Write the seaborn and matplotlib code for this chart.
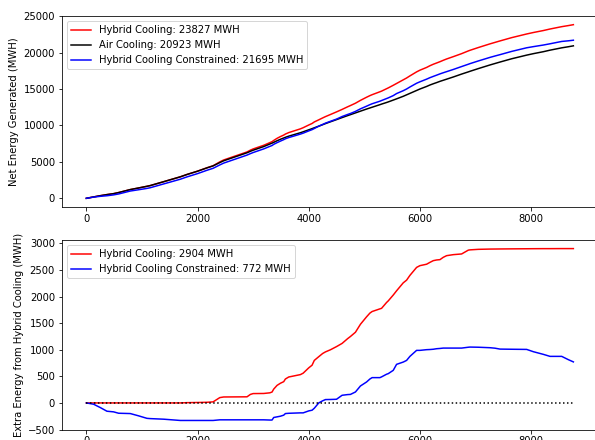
import numpy as np
import matplotlib
matplotlib.use("Agg")
import matplotlib.pyplot as plt
import seaborn as sns

# Hour of year at which cumulative totals were sampled
hours = np.array([
    0, 130, 250, 370, 490, 580, 790, 940, 1090, 1150, 1390, 1690, 1810, 2000,
    2170, 2280, 2400, 2470, 2890, 2950, 3000, 3190, 3300, 3340, 3370, 3430,
    3490, 3550, 3580, 3640, 3850, 3900, 4000, 4060, 4100, 4180, 4250, 4300,
    4390, 4500, 4600, 4700, 4750, 4840, 4930, 5040, 5100, 5140, 5280, 5310,
    5400, 5430, 5520, 5580, 5700, 5760, 5820, 5940, 6000, 6120, 6180, 6240,
    6300, 6360, 6420, 6480, 6600, 6750, 6870, 6900, 7050, 7260, 7350, 7440,
    7650, 7920, 8040, 8220, 8340, 8550, 8670, 8760,
])

# Cumulative net energy with air cooling only (MWH)
air_cooling = np.array([
    0, 190, 360, 510, 640, 790, 1200, 1420, 1650, 1750, 2280, 2950, 3270, 3720,
    4180, 4450, 4900, 5150, 6250, 6450, 6600, 7100, 7450, 7570, 7680, 7900,
    8100, 8280, 8370, 8530, 9000, 9130, 9400, 9560, 9680, 9900, 10100, 10250,
    10500, 10800, 11080, 11350, 11480, 11720, 11960, 12250, 12400, 12500, 12850, 12930,
    13150, 13230, 13480, 13650, 14000, 14200, 14400, 14800, 15000, 15350, 15550, 15720,
    15880, 16050, 16200, 16350, 16650, 17050, 17350, 17430, 17800, 18300, 18500, 18700,
    19150, 19650, 19850, 20120, 20330, 20650, 20800, 20923,
])

# Cumulative extra energy over air cooling, unconstrained hybrid (MWH)
hybrid_extra = np.array([
    0, 0, 0, 0, 0, 0, 0, 0, 0, 0, 0, 0, 5, 8,
    12, 20, 100, 112, 115, 160, 176, 178, 190, 205, 260, 330,
    370, 400, 450, 488, 533, 560, 660, 710, 800, 870, 930, 960,
    1000, 1060, 1120, 1210, 1250, 1330, 1480, 1620, 1690, 1720, 1770, 1780,
    1890, 1920, 2030, 2110, 2260, 2310, 2400, 2550, 2583, 2610, 2645, 2677,
    2690, 2696, 2740, 2771, 2790, 2803, 2875, 2880, 2890, 2895, 2896, 2897,
    2899, 2901, 2902, 2903, 2903, 2904, 2904, 2904,
])

# Cumulative extra energy over air cooling, constrained hybrid (MWH)
constrained_extra = np.array([
    0, -24, -87, -156, -168, -194, -200, -243, -290, -295, -306, -330, -330, -330,
    -330, -330, -318, -318, -318, -318, -318, -318, -322, -322, -274, -262,
    -250, -230, -200, -195, -187, -187, -150, -137, -100, 0, 40, 63,
    65, 69, 144, 157, 160, 206, 319, 394, 450, 476, 476, 490,
    540, 551, 613, 726, 769, 800, 876, 989, 989, 1002, 1005, 1010,
    1020, 1025, 1032, 1032, 1032, 1032, 1048, 1051, 1048, 1039, 1030, 1013,
    1010, 1007, 964, 914, 876, 876, 814, 772,
])

hybrid_cooling = air_cooling + hybrid_extra
hybrid_constrained = air_cooling + constrained_extra

x_ticks = [0, 2000, 4000, 6000, 8000]
top_y_ticks = [0, 5000, 10000, 15000, 20000, 25000]
bottom_y_ticks = [-500, 0, 500, 1000, 1500, 2000, 2500, 3000]

W, H = 595, 440
fig = plt.figure(figsize=(W / 72, H / 72), dpi=72)
ax_top = fig.add_axes([62 / W, (H - 207) / H, 532.5 / W, 191 / H])
ax_bot = fig.add_axes([62 / W, (H - 429.5) / H, 532.5 / W, 189.5 / H])

sns.lineplot(x=hours, y=hybrid_cooling, color="red", lw=1.5, ax=ax_top,
             label=f"Hybrid Cooling: {hybrid_cooling[-1]:.0f} MWH")
sns.lineplot(x=hours, y=air_cooling, color="black", lw=1.5, ax=ax_top,
             label=f"Air Cooling: {air_cooling[-1]:.0f} MWH")
sns.lineplot(x=hours, y=hybrid_constrained, color="blue", lw=1.5, ax=ax_top,
             label=f"Hybrid Cooling Constrained: {hybrid_constrained[-1]:.0f} MWH")
ax_top.set_ylabel("Net Energy Generated (MWH)")
ax_top.set_yticks(top_y_ticks)
ax_top.legend(loc="upper left")

sns.lineplot(x=hours, y=hybrid_extra, color="red", lw=1.5, ax=ax_bot,
             label=f"Hybrid Cooling: {hybrid_extra[-1]:.0f} MWH")
sns.lineplot(x=hours, y=constrained_extra, color="blue", lw=1.5, ax=ax_bot,
             label=f"Hybrid Cooling Constrained: {constrained_extra[-1]:.0f} MWH")
ax_bot.plot([hours[0], hours[-1]], [0, 0], "k:", lw=1.5)
ax_bot.set_ylabel("Extra Energy from Hybrid Cooling (MWH)")
ax_bot.set_yticks(bottom_y_ticks)
ax_bot.legend(loc="upper left")

for ax in (ax_top, ax_bot):
    ax.set_xticks(x_ticks)
    ax.set_xlim(-438, 9140)

fig.savefig("out.png", dpi=72)
